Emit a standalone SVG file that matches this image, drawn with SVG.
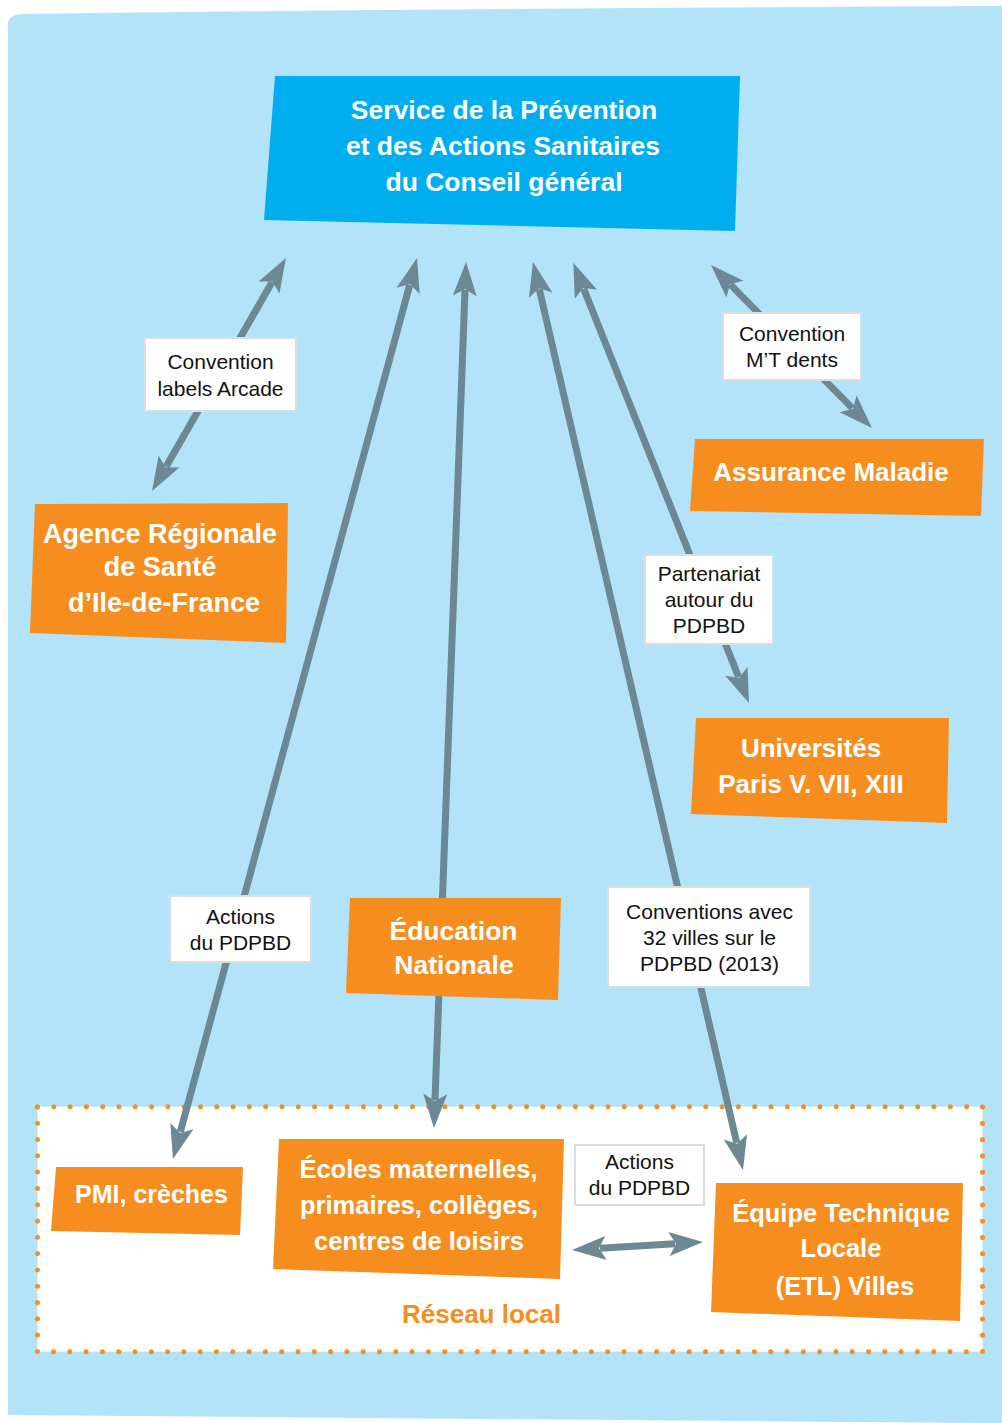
<svg xmlns="http://www.w3.org/2000/svg" width="1002" height="1423" viewBox="0 0 1002 1423">
  <defs>
    <style>
      .bg { fill: #b3e3f8; }
      .local { fill: #ffffff; stroke: #f68e1f; stroke-width: 5; stroke-linecap: round; stroke-dasharray: 0 16.3; }
      .conn { fill: none; stroke: #6b8894; stroke-width: 7; marker-start: url(#head); marker-end: url(#head); }
      .orange { fill: #f68e1f; }
      .cyan { fill: #00aeef; }
      .lbl { fill: #ffffff; stroke: #d6dfe3; stroke-width: 2; }
      .t { font-family: "Liberation Sans", Arial, sans-serif; font-weight: bold; fill: #ffffff; text-anchor: middle; }
      .lt { font-family: "Liberation Sans", Arial, Helvetica, sans-serif; font-size: 21px; fill: #111111; text-anchor: middle; }
    </style>
    <marker id="head" viewBox="-36 -14 40 28" refX="-28" refY="0" markerWidth="40" markerHeight="28" markerUnits="userSpaceOnUse" orient="auto-start-reverse">
      <path d="M0,0 L-34,-12 L-27,0 L-34,12 Z" fill="#6b8894"/>
    </marker>
  </defs>

  <g id="background">
    <rect x="0" y="0" width="1002" height="1423" fill="#ffffff"/>
    <path class="bg" d="M8,1415 L8,24 Q8,15 22,14 Q500,8 1002,6 L1002,1423 L980,1423 Z"/>
  </g>

  <g id="reseau-local">
    <rect class="local" x="37.5" y="1106.7" width="945" height="245"/>
    <text class="t" x="481.5" y="1323" font-size="26" style="fill:#f68e1f">Réseau local</text>
  </g>

  <g id="connectors">
    <line class="conn" x1="272.0" y1="282.3" x2="166.0" y2="466.7"/>
    <line class="conn" x1="409.7" y1="285.0" x2="180.3" y2="1132.0"/>
    <line class="conn" x1="465.0" y1="290.0" x2="435.0" y2="1100.0"/>
    <line class="conn" x1="539.3" y1="289.3" x2="736.7" y2="1142.7"/>
    <line class="conn" x1="583.7" y1="288.7" x2="738.6" y2="677.0"/>
    <line class="conn" x1="730.7" y1="284.9" x2="852.3" y2="408.1"/>
    <line class="conn" x1="600.0" y1="1248.3" x2="675.0" y2="1243.7"/>
  </g>

  <g id="edge-labels">
    <g id="label-arcade">
      <rect class="lbl" x="145" y="338" width="151" height="73"/>
      <text class="lt" x="220.5" y="369">Convention</text>
      <text class="lt" x="220.5" y="396">labels Arcade</text>
    </g>
    <g id="label-mtdents">
      <rect class="lbl" x="723" y="313" width="138" height="67"/>
      <text class="lt" x="792" y="341">Convention</text>
      <text class="lt" x="792" y="367">M’T dents</text>
    </g>
    <g id="label-partenariat">
      <rect class="lbl" x="645" y="555" width="128" height="89"/>
      <text class="lt" x="709" y="581">Partenariat</text>
      <text class="lt" x="709" y="607">autour du</text>
      <text class="lt" x="709" y="633">PDPBD</text>
    </g>
    <g id="label-actions-pmi">
      <rect class="lbl" x="170" y="896" width="141" height="66"/>
      <text class="lt" x="240.5" y="924">Actions</text>
      <text class="lt" x="240.5" y="950">du PDPBD</text>
    </g>
    <g id="label-conventions-villes">
      <rect class="lbl" x="608" y="887" width="202" height="100"/>
      <text class="lt" x="709.5" y="919">Conventions avec</text>
      <text class="lt" x="709.5" y="945">32 villes sur le</text>
      <text class="lt" x="709.5" y="971">PDPBD (2013)</text>
    </g>
    <g id="label-actions-local">
      <rect class="lbl" x="575" y="1145" width="129" height="60"/>
      <text class="lt" x="639.5" y="1169">Actions</text>
      <text class="lt" x="639.5" y="1195">du PDPBD</text>
    </g>
  </g>

  <g id="node-service">
    <polygon class="cyan" points="275,76 740,76 735,231 264,220"/>
    <text class="t" x="504" y="119" font-size="26.5">Service de la Prévention</text>
    <text class="t" x="503" y="155" font-size="26.5">et des Actions Sanitaires</text>
    <text class="t" x="504" y="191" font-size="26.5">du Conseil général</text>
  </g>

  <g id="node-ars">
    <polygon class="orange" points="35,504 288,503 286,643 30,633"/>
    <text class="t" x="160" y="543" font-size="27">Agence Régionale</text>
    <text class="t" x="160" y="576" font-size="27">de Santé</text>
    <text class="t" x="164" y="612" font-size="27">d’Ile-de-France</text>
  </g>

  <g id="node-assurance">
    <polygon class="orange" points="695,439 984,439 981,516 690,511"/>
    <text class="t" x="831" y="481" font-size="26">Assurance Maladie</text>
  </g>

  <g id="node-universites">
    <polygon class="orange" points="696,718 949,718 947,823 691,814"/>
    <text class="t" x="811" y="757" font-size="26">Universités</text>
    <text class="t" x="811" y="793" font-size="26">Paris V. VII, XIII</text>
  </g>

  <g id="node-education">
    <polygon class="orange" points="350,898 561,898 558,1000 346,993"/>
    <text class="t" x="453.5" y="940" font-size="26.5">Éducation</text>
    <text class="t" x="454" y="974" font-size="26.5">Nationale</text>
  </g>

  <g id="node-pmi">
    <polygon class="orange" points="56,1167 243,1167 240,1235 51,1231"/>
    <text class="t" x="151.5" y="1203" font-size="25">PMI, crèches</text>
  </g>

  <g id="node-ecoles">
    <polygon class="orange" points="279,1139 564,1139 560,1279 273,1269"/>
    <text class="t" x="418.5" y="1178" font-size="25.5">Écoles maternelles,</text>
    <text class="t" x="419" y="1214" font-size="25.5">primaires, collèges,</text>
    <text class="t" x="419" y="1250" font-size="25.5">centres de loisirs</text>
  </g>

  <g id="node-etl">
    <polygon class="orange" points="716,1183 963,1183 960,1321 711,1312"/>
    <text class="t" x="841" y="1222" font-size="25.5">Équipe Technique</text>
    <text class="t" x="841" y="1257" font-size="25.5">Locale</text>
    <text class="t" x="845" y="1295" font-size="25.5">(ETL) Villes</text>
  </g>
</svg>
